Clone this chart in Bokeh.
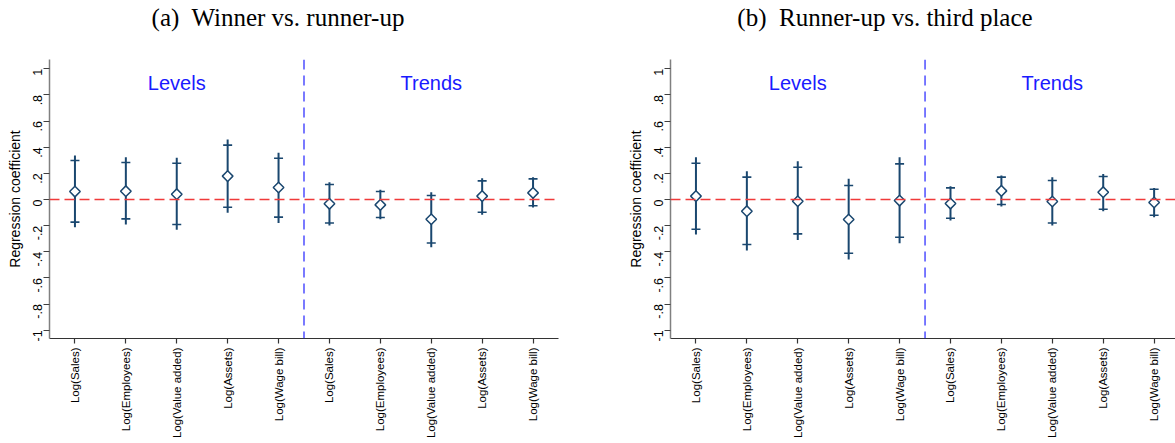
import math
from bokeh.plotting import figure
from bokeh.layouts import row, column
from bokeh.models import ColumnDataSource, Span, FixedTicker, Range1d, Div
from bokeh.core.properties import value
from bokeh.embed import file_html
from bokeh.resources import INLINE

# ---------------- data ----------------
categories = ["Log(Sales)", "Log(Employees)", "Log(Value added)", "Log(Assets)", "Log(Wage bill)",
              "Log(Sales)", "Log(Employees)", "Log(Value added)", "Log(Assets)", "Log(Wage bill)"]
positions = [1, 2, 3, 4, 5, 6, 7, 8, 9, 10]
groups = ["Levels", "Trends"]
group_pos = [3, 8]
divider_pos = 5.5
panel_titles = ["(a)&nbsp; Winner vs. runner-up", "(b)&nbsp; Runner-up vs. third place"]

y_ticks = [-1, -0.8, -0.6, -0.4, -0.2, 0, 0.2, 0.4, 0.6, 0.8, 1]
y_tick_labels = ["-1", "-.8", "-.6", "-.4", "-.2", "0", ".2", ".4", ".6", ".8", "1"]

# panel (a) winner vs runner-up
a_coef = [0.061, 0.064, 0.041, 0.179, 0.092, -0.033, -0.041, -0.151, 0.026, 0.051]
a_hi90 = [0.298, 0.283, 0.278, 0.416, 0.316, 0.115, 0.061, 0.031, 0.143, 0.158]
a_lo90 = [-0.173, -0.148, -0.191, -0.059, -0.135, -0.179, -0.138, -0.332, -0.097, -0.048]
a_hi95 = [0.337, 0.324, 0.319, 0.459, 0.357, 0.133, 0.074, 0.056, 0.163, 0.171]
a_lo95 = [-0.212, -0.191, -0.232, -0.102, -0.179, -0.199, -0.151, -0.365, -0.117, -0.061]

# panel (b) runner-up vs third place
b_coef = [0.026, -0.089, -0.013, -0.153, -0.008, -0.031, 0.066, -0.015, 0.056, -0.023]
b_hi90 = [0.278, 0.171, 0.247, 0.107, 0.273, 0.089, 0.171, 0.145, 0.176, 0.079]
b_lo90 = [-0.227, -0.344, -0.263, -0.411, -0.288, -0.143, -0.038, -0.179, -0.074, -0.120]
b_hi95 = [0.324, 0.217, 0.293, 0.158, 0.324, 0.102, 0.184, 0.171, 0.196, 0.089]
b_lo95 = [-0.268, -0.390, -0.309, -0.459, -0.334, -0.161, -0.054, -0.199, -0.089, -0.135]

NAVY = "#1a476f"
SANS = "Liberation Sans"
SERIF = "Liberation Serif"
HEADER_H = 40


def make_panel(coef, lo90, hi90, lo95, hi95, width, border_left, border_right, x_end):
    p = figure(width=width, height=443 - HEADER_H, output_backend="svg", toolbar_location=None,
               x_range=Range1d(0.5, x_end), y_range=Range1d(-1.063, 1.071),
               min_border_left=border_left, min_border_right=border_right,
               min_border_top=59 - HEADER_H, min_border_bottom=105)
    p.outline_line_color = None
    p.grid.visible = False
    p.background_fill_color = "white"
    p.border_fill_color = "white"

    src = ColumnDataSource(dict(x=positions, coef=coef, lo90=lo90, hi90=hi90,
                                lo95=lo95, hi95=hi95))

    p.add_layout(Span(location=0, dimension="width", line_color="#f03a3a",
                      line_width=1.5, line_dash="10 5"))
    p.add_layout(Span(location=divider_pos, dimension="height", line_color="#2020ff",
                      line_width=1.2, line_dash="10 6"))

    p.segment(x0="x", y0="lo95", x1="x", y1="hi95", source=src,
              line_color=NAVY, line_width=2)
    p.scatter(x="x", y="lo90", source=src, marker="dash", size=9,
              line_color=NAVY, line_width=1.6)
    p.scatter(x="x", y="hi90", source=src, marker="dash", size=9,
              line_color=NAVY, line_width=1.6)
    p.scatter(x="x", y="coef", source=src, marker="square", angle=math.pi / 4,
              size=7.5, fill_color="white", line_color=NAVY, line_width=1.5)

    p.text(x=group_pos, y=[0.894, 0.894], text=groups, text_align="center",
           text_baseline="alphabetic", text_color="#1a1aff",
           text_font=value(SANS), text_font_size="20px")

    # axes
    ya = p.yaxis[0]
    ya.ticker = FixedTicker(ticks=y_ticks)
    ya.major_label_overrides = {t_: l for t_, l in zip(y_ticks, y_tick_labels)}
    ya.major_label_orientation = math.pi / 2
    ya.major_label_text_font = SANS
    ya.major_label_text_font_size = "12.5px"
    ya.major_label_text_color = "black"
    ya.major_label_standoff = 6
    ya.major_tick_out = 6
    ya.major_tick_in = 0
    ya.minor_tick_out = 0
    ya.minor_tick_in = 0
    ya.axis_line_color = "#808080"
    ya.axis_line_width = 1.5
    ya.major_tick_line_color = "#404040"
    ya.major_tick_line_width = 1.2
    ya.axis_label = "Regression coefficient"
    ya.axis_label_text_font = SANS
    ya.axis_label_text_font_size = "14px"
    ya.axis_label_text_font_style = "normal"
    ya.axis_label_text_color = "black"
    ya.axis_label_standoff = 3

    xa = p.xaxis[0]
    xa.ticker = FixedTicker(ticks=positions)
    xa.major_label_overrides = {pos: lab for pos, lab in zip(positions, categories)}
    xa.major_label_orientation = math.pi / 2
    xa.major_label_text_font = SANS
    xa.major_label_text_font_size = "11.5px"
    xa.major_label_text_color = "black"
    xa.major_label_standoff = 4
    xa.major_tick_out = 5
    xa.major_tick_in = 0
    xa.minor_tick_out = 0
    xa.minor_tick_in = 0
    xa.axis_line_color = "#333333"
    xa.axis_line_width = 1.2
    xa.major_tick_line_color = "#333333"
    xa.major_tick_line_width = 1.2
    return p


p1 = make_panel(a_coef, a_lo90, a_hi90, a_lo95, a_hi95,
                width=600, border_left=49, border_right=42, x_end=10.5)
p2 = make_panel(b_coef, b_lo90, b_hi90, b_lo95, b_hi95,
                width=575, border_left=70, border_right=0, x_end=10.42)

span_style = ("position:absolute;top:5px;transform:translateX(-50%);white-space:nowrap;"
              "line-height:25px;")
header_html = (
    "<div style=\"position:relative;width:1175px;height:%dpx;font-family:'Liberation Serif';"
    "font-size:25px;color:black;\">" % HEADER_H
    + "<span style=\"%sleft:278px;\">%s</span>" % (span_style, panel_titles[0])
    + "<span style=\"%sleft:885px;\">%s</span>" % (span_style, panel_titles[1])
    + "</div>"
)
header = Div(text=header_html, width=1175, height=HEADER_H, margin=(0, 0, 0, 0))

layout = column(header, row(p1, p2, spacing=0), spacing=0)
open("out.html", "w").write(file_html(layout, INLINE))
